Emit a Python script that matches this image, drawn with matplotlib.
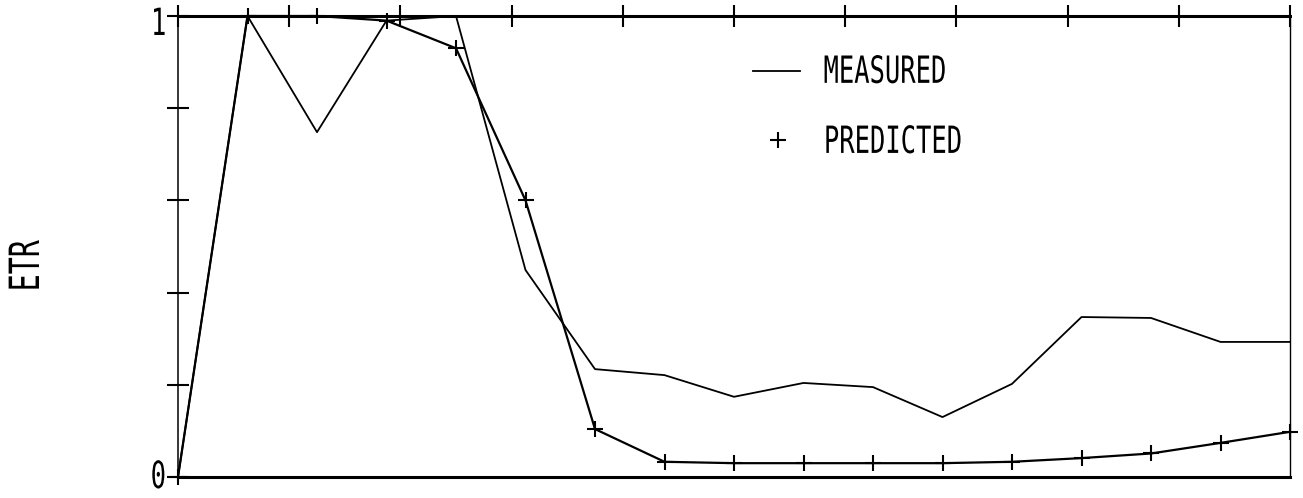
import matplotlib
matplotlib.use('Agg')
import matplotlib.pyplot as plt
import numpy as np
from matplotlib import patheffects
from matplotlib.transforms import Affine2D, ScaledTranslation

# ETR per sample position (17 samples)
measured = [0.0, 1.0, 0.748, 0.99, 1.0, 0.449, 0.234, 0.221, 0.174,
            0.204, 0.195, 0.130, 0.202, 0.347, 0.345, 0.293, 0.293]
predicted = [0.0, 1.0, 1.0, 0.99, 0.93, 0.60, 0.104, 0.033, 0.030,
             0.030, 0.030, 0.030, 0.033, 0.041, 0.051, 0.074, 0.098]
series_labels = ['MEASURED', 'PREDICTED']
ytick_labels = ['0', '', '', '', '', '1']

FONT = 'DejaVu Sans Mono'


class Squeeze(patheffects.AbstractPathEffect):
    """Narrow the glyphs horizontally, like an old pen-plotter font."""

    def __init__(self, sx=0.68):
        super().__init__()
        self.sx = sx

    def draw_path(self, renderer, gc, tpath, affine, rgbFace=None):
        ext = tpath.get_extents()
        cx = 0.5 * (ext.x0 + ext.x1)
        squeeze = Affine2D().translate(-cx, 0).scale(self.sx, 1).translate(cx, 0)
        renderer.draw_path(gc, tpath, squeeze + affine, rgbFace)


narrow = [Squeeze(0.68)]

x = np.arange(len(measured))

fig = plt.figure(figsize=(13.03, 4.98), dpi=100)
ax = fig.add_axes([178 / 1303, 21 / 498, 1112 / 1303, 461 / 498])

ax.plot(x, measured, color='black', lw=1.3, clip_on=False, zorder=3)
ax.plot(x, predicted, color='black', lw=1.6, marker='+', ms=12, mew=1.5,
        clip_on=False, zorder=3)

ax.set_xlim(0, 16)
ax.set_ylim(0, 1)

# frame: heavy top/bottom, light sides
ax.spines['top'].set_linewidth(2.2)
ax.spines['bottom'].set_linewidth(2.2)
ax.spines['left'].set_linewidth(1.1)
ax.spines['right'].set_linewidth(1.0)

# ticks only along the top edge and the left edge
ax.set_xticks(np.linspace(0, 16, 11))
ax.tick_params(axis='x', bottom=False, top=True, labelbottom=False,
               direction='inout', length=16, width=1.5)
ax.set_yticks(np.linspace(0, 1, 6))
ax.set_yticklabels(ytick_labels, fontfamily=FONT, fontsize=27)
ax.tick_params(axis='y', left=True, right=False, direction='inout',
               length=16, width=1.5, pad=-2)
# nudge "1" down a little and keep "0" inside the figure
labels = ax.get_yticklabels()
labels[-1].set_transform(labels[-1].get_transform()
                         + ScaledTranslation(0, -0.05, fig.dpi_scale_trans))
labels[0].set_transform(labels[0].get_transform()
                        + ScaledTranslation(0, 0.03, fig.dpi_scale_trans))
for lbl in labels:
    lbl.set_path_effects(narrow)

ax.set_ylabel('ETR', fontfamily=FONT, fontsize=30, va='baseline',
              path_effects=narrow)
ax.yaxis.set_label_coords(-0.1250, 0.4566)

# key
ax.plot([0.517, 0.559], [0.881, 0.881], color='black', lw=1.3,
        transform=ax.transAxes, clip_on=False)
ax.plot([0.540], [0.731], color='black', marker='+', ms=12, mew=1.5,
        ls='none', transform=ax.transAxes, clip_on=False)
ax.text(0.636, 0.855, series_labels[0], transform=ax.transAxes,
        ha='center', va='baseline', fontfamily=FONT, fontsize=27,
        path_effects=narrow)
ax.text(0.643, 0.703, series_labels[1], transform=ax.transAxes,
        ha='center', va='baseline', fontfamily=FONT, fontsize=27,
        path_effects=narrow)

fig.savefig('out.png', dpi=100, facecolor='white')
plt.close(fig)
